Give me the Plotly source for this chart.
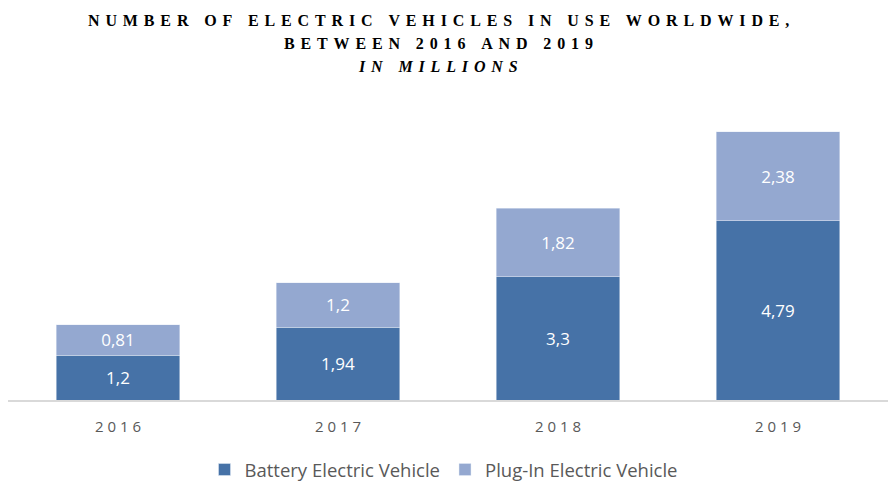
import plotly.graph_objects as go

years = ["2016", "2017", "2018", "2019"]
battery = [1.2, 1.94, 3.3, 4.79]
plugin = [0.81, 1.2, 1.82, 2.38]
series_names = ["Battery Electric Vehicle", "Plug-In Electric Vehicle"]
title_lines = ["NUMBER OF ELECTRIC VEHICLES IN USE WORLDWIDE,", "BETWEEN 2016 AND 2019", "IN MILLIONS"]

def fmt(v):
    return f"{v:g}".replace(".", ",")

def spaced(s, sep="\u2009"):
    return sep.join(list(s))

fig = go.Figure()
fig.add_trace(go.Bar(x=years, y=battery, name=series_names[0], marker_color="#4672A7",
                     text=[fmt(v) for v in battery], textposition="inside", insidetextanchor="middle",
                     textfont=dict(color="white", size=17, family="Open Sans")))
fig.add_trace(go.Bar(x=years, y=plugin, name=series_names[1], marker_color="#94A8D0",
                     text=[fmt(v) for v in plugin], textposition="inside", insidetextanchor="middle",
                     textfont=dict(color="white", size=17, family="Open Sans")))

fig.update_layout(
    barmode="stack",
    bargap=0.44,
    width=888, height=481,
    margin=dict(l=8, r=0, t=100, b=81, autoexpand=False),
    plot_bgcolor="white", paper_bgcolor="white",
    showlegend=True,
    legend=dict(orientation="h", x=0.5, xanchor="center", xref="container",
                y=1 - 470 / 481, yanchor="middle", yref="container",
                font=dict(size=18.5, color="#595959", family="Open Sans"), itemwidth=30,
                traceorder="normal"),
    xaxis=dict(showline=True, linecolor="#D9D9D9", linewidth=1.5, ticks="",
               tickvals=years, ticktext=[spaced(y, " ") for y in years],
               ticklabelstandoff=12,
               tickfont=dict(size=15, color="#595959", family="Open Sans")),
    yaxis=dict(range=[0, 8.02], visible=False),
)

title_styles = [
    dict(y=20, size=16, bold=True, italic=False),
    dict(y=44, size=16, bold=True, italic=False),
    dict(y=67, size=16, bold=True, italic=True),
]
for line, st in zip(title_lines, title_styles):
    txt = "<b>" + spaced(line, "\u2009\u2006") + "</b>"
    if st["italic"]:
        txt = "<i>" + txt + "</i>"
    fig.add_annotation(text=txt, xref="paper", yref="paper", x=(438 - 8) / 880, xanchor="center",
                       y=1 + (100 - st["y"]) / 300, yanchor="middle", showarrow=False,
                       font=dict(family="Liberation Serif", size=st["size"], color="#000000"))

fig.write_html("out.html")
